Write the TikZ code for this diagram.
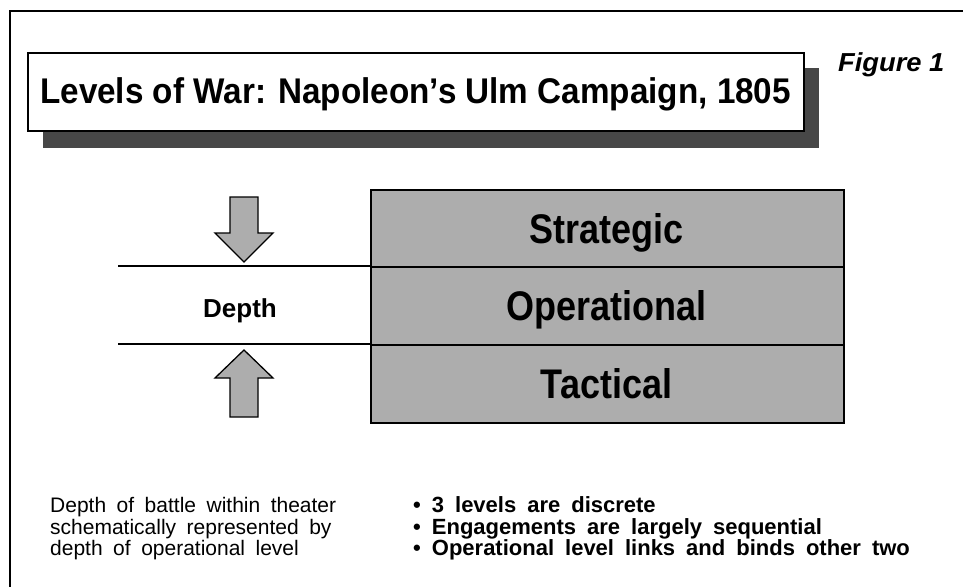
\documentclass[tikz,border=0pt]{standalone}
\usepackage{fontspec}
\setmainfont{Liberation Sans}
\newfontfamily\bodyfont[WordSpace=1.8]{Liberation Sans}
\tikzset{
  stipple/.style={fill=black!32},
  heavy/.style={draw=black, line width=2pt},
  blockarrow/.style={draw=black, line width=1.3pt, fill=black!32, line join=miter},
  rowbox/.style={heavy, stipple, anchor=north west, inner sep=0pt, minimum width=473pt},
  rowlabel/.style={anchor=base, inner sep=0pt, font=\fontsize{36}{40}\selectfont\bfseries},
  noteline/.style={anchor=base west, inner sep=0pt, font=\bodyfont\fontsize{21}{24}\selectfont},
  bulletline/.style={anchor=base west, inner sep=0pt, font=\bodyfont\fontsize{22}{24}\selectfont\bfseries}
}
\begin{document}
\begin{tikzpicture}[x=1pt,y=-1pt]
\useasboundingbox (0,0) rectangle (963,586);
\fill[white] (0,0) rectangle (963,586);
% outer frame
\coordinate (fb) at (10,590);
\coordinate (ftl) at (10,11);
\coordinate (fr) at (970,11);
\draw[line width=2pt] (fb) -- (ftl) -- (fr);
% title with shadow
\fill[black!72] (43,68) rectangle (819,148);
\node[heavy, fill=white, anchor=north west, inner sep=0pt, minimum width=776pt, minimum height=78pt] (title) at (27,52) {};
\node[anchor=base west, inner sep=0pt, font=\fontsize{35}{40}\selectfont\bfseries] (titletext) at (40,103)
  {\scalebox{0.95}[1.02]{Levels of War: Napoleon's Ulm Campaign, 1805}};
\node[anchor=base west, inner sep=0pt, font=\fontsize{26}{30}\selectfont\bfseries\itshape] (fig) at (838,71) {\scalebox{1.05}[1]{Figure 1}};
% stacked levels
\node[rowbox, minimum height=77pt] (strat) at (370,189) {};
\node[rowbox, minimum height=78pt] (oper) at (370,266) {};
\node[rowbox, minimum height=78pt] (tact) at (370,344) {};
\node[rowlabel] (stratlab) at (606.5,243) {\scalebox{1}[1.15]{Strategic}};
\node[rowlabel] (operlab) at (606.5,320) {\scalebox{1}[1.15]{Operational}};
\node[rowlabel] (tactlab) at (606.5,398) {\scalebox{1}[1.15]{Tactical}};
% depth band lines
\coordinate (l1) at (118,266);
\coordinate (l2) at (118,344);
\draw[line width=2pt] (l1) -- (oper.north west);
\draw[line width=2pt] (l2) -- (tact.north west);
\node[anchor=base, inner sep=0pt, font=\fontsize{26}{30}\selectfont\bfseries] (depth) at (240,317) {Depth};
% block arrows
\draw[blockarrow] (230,197) -- (258,197) -- (258,233) -- (273,233) -- (244,262) -- (215,233) -- (230,233) -- cycle;
\draw[blockarrow] (244,350) -- (273,378) -- (258,378) -- (258,417) -- (230,417) -- (230,378) -- (215,378) -- cycle;
% notes
\node[noteline] (n1) at (50,512) {Depth of battle within theater};
\node[noteline] (n2) at (50,534) {schematically represented by};
\node[noteline] (n3) at (50,555) {depth of operational level};
\node[bulletline] (b1) at (413,512) {\textbullet\ 3 levels are discrete};
\node[bulletline] (b2) at (413,534) {\textbullet\ Engagements are largely sequential};
\node[bulletline] (b3) at (413,555) {\textbullet\ Operational level links and binds other two};
\end{tikzpicture}
\end{document}
